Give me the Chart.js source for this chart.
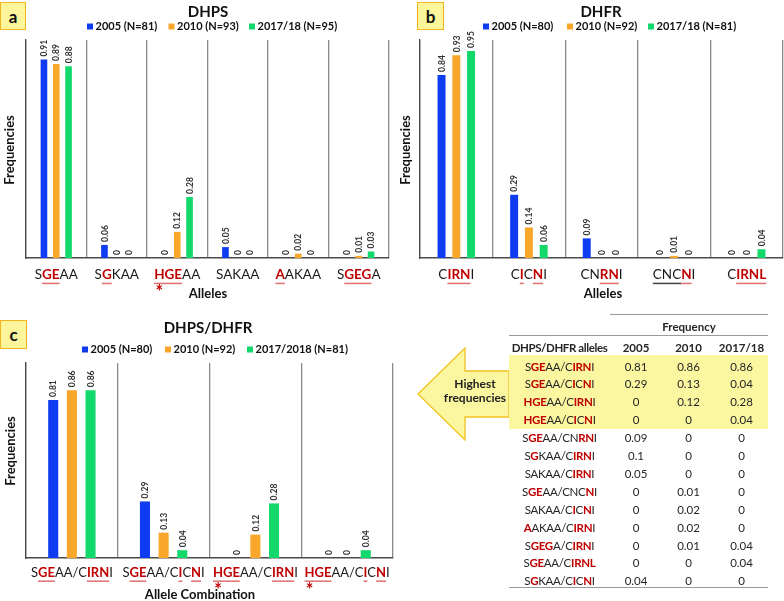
<!DOCTYPE html>
<html><head><meta charset="utf-8">
<script src="https://cdn.jsdelivr.net/npm/chart.js@4.4.0/dist/chart.umd.min.js"></script>
<style>
html,body{margin:0;padding:0;background:#fff;width:784px;height:601px;overflow:hidden;font-family:Lato,sans-serif;}
#wrap{position:relative;width:784px;height:601px;}
canvas{position:absolute;}
.tag{position:absolute;box-sizing:border-box;background:#fdf59c;border:1.5px solid #f3b51b;font:bold 17px Lato,sans-serif;color:#111;display:flex;align-items:center;justify-content:center;}
.hl{position:absolute;left:509px;top:355px;width:259px;height:74px;background:#fbf6a0;}
.line{position:absolute;height:1px;background:#9a9a9a;}
.row{position:absolute;left:509px;width:259px;height:18px;display:flex;align-items:center;font:11.5px Lato,sans-serif;color:#262626;white-space:nowrap;}
.row div{text-align:center;}
.c0{width:101px;letter-spacing:-0.3px}.c1{width:52px}.c2{width:53px}.c3{width:53px}
.red{color:#c00000;font-weight:bold;}
.hdr{font-weight:bold;font-size:11.5px;}
.hdr .c0{letter-spacing:-0.4px}
#arrowtxt{position:absolute;left:430px;top:377px;width:90px;text-align:center;font:bold 12px Lato,sans-serif;line-height:14px;color:#222;}
</style></head>
<body><div id="wrap">
<canvas id="ca" width="390" height="300" style="left:0;top:0;width:390px;height:300px"></canvas>
<canvas id="cb" width="394" height="300" style="left:390px;top:0;width:394px;height:300px"></canvas>
<canvas id="cc" width="400" height="301" style="left:0;top:300px;width:400px;height:301px"></canvas>
<div class="tag" style="left:0;top:2px;width:26px;height:28px">a</div>
<div class="tag" style="left:417px;top:2px;width:27px;height:28px">b</div>
<div class="tag" style="left:0;top:320px;width:27px;height:29px">c</div>
<div id="table"></div>
</div>
<script>
// ---------- DATA ----------
const seriesColors = ["#0f3cf0", "#f9a72b", "#13d86b"];

// Panel a: DHPS  ([..] = mutated residues in red, underlined)
const dhpsAlleles = ["S[GE]AA", "S[G]KAA", "[HGE]AA", "SAKAA", "[A]AKAA", "S[GEG]A"];
const dhpsLegend = ["2005 (N=81)", "2010 (N=93)", "2017/18 (N=95)"];
const dhps2005 = [0.91, 0.06, 0, 0.05, 0, 0];
const dhps2010 = [0.89, 0, 0.12, 0, 0.02, 0.01];
const dhps2017 = [0.88, 0, 0.28, 0, 0, 0.03];
const dhpsStarred = [2];

// Panel b: DHFR  ({..} = underlined black)
const dhfrAlleles = ["C[IRN]I", "C[I]C[N]I", "CN[RN]I", "{CNC}[N]I", "C[IRNL]"];
const dhfrLegend = ["2005 (N=80)", "2010 (N=92)", "2017/18 (N=81)"];
const dhfr2005 = [0.84, 0.29, 0.09, 0, 0];
const dhfr2010 = [0.93, 0.14, 0, 0.01, 0];
const dhfr2017 = [0.95, 0.06, 0, 0, 0.04];
const dhfrStarred = [];

// Panel c: DHPS/DHFR combinations
const comboAlleles = ["S[GE]AA/C[IRN]I", "S[GE]AA/C[I]C[N]I", "[HGE]AA/C[IRN]I", "[HGE]AA/C[I]C[N]I"];
const comboLegend = ["2005 (N=80)", "2010 (N=92)", "2017/2018 (N=81)"];
const combo2005 = [0.81, 0.29, 0, 0];
const combo2010 = [0.86, 0.13, 0.12, 0];
const combo2017 = [0.86, 0.04, 0.28, 0.04];
const comboStarred = [2, 3];

// Table
const tableHeader = ["DHPS/DHFR alleles", "2005", "2010", "2017/18"];
const tableAlleles = ["S[GE]AA/C[IRN]I", "S[GE]AA/C[I]C[N]I", "[HGE]AA/C[IRN]I", "[HGE]AA/C[I]C[N]I",
  "S[GE]AA/CN[RN]I", "S[G]KAA/C[IRN]I", "SAKAA/C[IRN]I", "S[GE]AA/CNC[N]I", "SAKAA/C[I]C[N]I",
  "[A]AKAA/C[IRN]I", "S[GEG]A/C[IRN]I", "S[GE]AA/C[IRNL]", "S[G]KAA/C[I]C[N]I"];
const table2005 = ["0.81", "0.29", "0", "0", "0.09", "0.1", "0.05", "0", "0", "0", "0", "0", "0.04"];
const table2010 = ["0.86", "0.13", "0.12", "0", "0", "0", "0", "0.01", "0.02", "0.02", "0.01", "0", "0"];
const table2017 = ["0.86", "0.04", "0.28", "0.04", "0", "0", "0", "0", "0", "0", "0.04", "0.04", "0"];
const highlightedRows = 4;

// ---------- helpers ----------
function parseRich(s) {
  const segs = []; const re = /\[([^\]]+)\]|\{([^}]+)\}|([^\[\{]+)/g; let m;
  while ((m = re.exec(s))) {
    if (m[1]) segs.push({ t: m[1], k: 'r' });
    else if (m[2]) segs.push({ t: m[2], k: 'u' });
    else segs.push({ t: m[3], k: 'n' });
  }
  return segs;
}
const FF = "Lato, sans-serif";

function drawRich(ctx, segs, cx, y, size) {
  const fonts = { r: `bold ${size}px ${FF}`, n: `${size}px ${FF}`, u: `${size}px ${FF}` };
  let w = 0;
  segs.forEach(s => { ctx.font = fonts[s.k]; s.w = ctx.measureText(s.t).width; w += s.w; });
  let x = cx - w / 2; const x0 = x;
  ctx.textBaseline = 'middle'; ctx.textAlign = 'left';
  segs.forEach(s => {
    ctx.font = fonts[s.k];
    ctx.fillStyle = s.k === 'r' ? '#c00000' : '#1a1a1a';
    ctx.fillText(s.t, x, y);
    if (s.k !== 'n') {
      ctx.fillStyle = s.k === 'r' ? '#e07070' : '#444';
      ctx.fillRect(x, y + size * 0.57, s.w, 1.5);
    }
    x += s.w;
  });
  ctx.font = fonts[segs[0].k];
  return { x0, firstW: ctx.measureText(segs[0].t[0]).width };
}

const panelPlugin = {
  id: 'panelText',
  afterDraw(chart, args, o) {
    const ctx = chart.ctx;
    ctx.save();
    // title
    ctx.fillStyle = '#111'; ctx.font = `bold 15px ${FF}`; ctx.textAlign = 'center'; ctx.textBaseline = 'middle';
    ctx.fillText(o.title, o.titleX, o.titleY);
    // legend
    chart.data.datasets.forEach((ds, i) => {
      ctx.fillStyle = ds.backgroundColor;
      ctx.fillRect(o.legendX[i], o.legendY - 3, 6, 6);
      ctx.fillStyle = '#111'; ctx.font = `bold 11px ${FF}`; ctx.textAlign = 'left'; ctx.textBaseline = 'middle';
      ctx.fillText(ds.label, o.legendX[i] + 8.5, o.legendY);
    });
    // data labels
    chart.data.datasets.forEach((ds, i) => {
      chart.getDatasetMeta(i).data.forEach((el, j) => {
        ctx.save();
        ctx.translate(el.x, el.y - 3);
        ctx.rotate(-Math.PI / 2);
        ctx.fillStyle = '#333'; ctx.font = `bold 8.5px ${FF}`; ctx.textAlign = 'left'; ctx.textBaseline = 'middle';
        ctx.fillText(String(ds.data[j]), 0, 0.5);
        ctx.restore();
      });
    });
    // x tick labels (rich)
    const xs = chart.scales.x;
    chart.data.labels.forEach((lab, i) => {
      const cx = xs.getPixelForValue(i);
      const r = drawRich(ctx, parseRich(lab), cx, o.tickY, o.tickSize);
      if (o.starred.includes(i)) {
        const ss = 18;
        ctx.fillStyle = '#c00000'; ctx.font = `bold ${ss}px ${FF}`; ctx.textAlign = 'center'; ctx.textBaseline = 'alphabetic';
        ctx.fillText('*', r.x0 + r.firstW / 2, o.starY + ss * 0.55);
      }
    });
    // axis titles
    ctx.fillStyle = '#111'; ctx.font = `bold 13px ${FF}`; ctx.textAlign = 'center'; ctx.textBaseline = 'middle';
    ctx.fillText(o.xTitle, o.xTitleX, o.xTitleY);
    ctx.save(); ctx.translate(o.yTitleX, o.yTitleY); ctx.rotate(-Math.PI / 2);
    ctx.fillText('Frequencies', 0, 0); ctx.restore();
    ctx.restore();
  }
};

function makeChart(id, labels, legend, series, pad, opts) {
  return new Chart(document.getElementById(id), {
    type: 'bar',
    data: {
      labels: labels,
      datasets: series.map((d, i) => ({ label: legend[i], data: d, backgroundColor: seriesColors[i], borderWidth: 0,
        categoryPercentage: 0.61, barPercentage: 0.54 }))
    },
    options: {
      responsive: false, animation: false, devicePixelRatio: 1,
      layout: { padding: pad },
      plugins: { legend: { display: false }, title: { display: false }, tooltip: { enabled: false }, panelText: opts },
      scales: {
        x: { grid: { display: true, offset: true, color: '#8a8a8a', lineWidth: 1.3, drawTicks: false },
             border: { display: true, color: '#4a4a4a', width: 1.5 }, ticks: { display: false } },
        y: { min: 0, max: 1, grid: { display: false, drawTicks: false },
             border: { display: true, color: '#4a4a4a', width: 1.3 }, ticks: { display: false } }
      }
    },
    plugins: [panelPlugin]
  });
}

makeChart('ca', dhpsAlleles, dhpsLegend, [dhps2005, dhps2010, dhps2017],
  { left: 26, top: 40, right: 1, bottom: 42 },
  { title: 'DHPS', titleX: 208, titleY: 12, legendX: [87, 168.5, 249], legendY: 26.5, tickY: 275, tickSize: 13.5,
    starred: dhpsStarred, starY: 288, xTitle: 'Alleles', xTitleX: 208, xTitleY: 294, yTitleX: 10, yTitleY: 150 });

makeChart('cb', dhfrAlleles, dhfrLegend, [dhfr2005, dhfr2010, dhfr2017],
  { left: 30, top: 40, right: 1, bottom: 42 },
  { title: 'DHFR', titleX: 211, titleY: 12, legendX: [93, 177, 258], legendY: 26.5, tickY: 275, tickSize: 13.5,
    starred: dhfrStarred, starY: 288, xTitle: 'Alleles', xTitleX: 213, xTitleY: 294, yTitleX: 16, yTitleY: 150 });

makeChart('cc', comboAlleles, comboLegend, [combo2005, combo2010, combo2017],
  { left: 26, top: 63, right: 7, bottom: 43 },
  { title: 'DHPS/DHFR', titleX: 208, titleY: 28, legendX: [82, 165, 247], legendY: 49.5, tickY: 273, tickSize: 13,
    starred: comboStarred, starY: 286, xTitle: 'Allele Combination', xTitleX: 200, xTitleY: 295, yTitleX: 11, yTitleY: 151 });

// ---------- table ----------
function richHTML(s) {
  return parseRich(s).map(g => g.k === 'r' ? `<span class="red">${g.t}</span>` : g.t).join('');
}
(function buildTable() {
  const t = document.getElementById('table');
  let h = '';
  h += `<svg style="position:absolute;left:0;top:0" width="784" height="601"><polygon points="509,371 465,371 465,348 418,394 465,440 465,417 509,417" fill="#fbf6a0" stroke="#f2c21f" stroke-width="1.3"/></svg>`;
  h += `<div class="hl"></div>`;
  h += `<div id="arrowtxt">Highest<br>frequencies</div>`;
  h += `<div class="line" style="left:610px;top:314px;width:158px"></div>`;
  h += `<div class="row hdr" style="top:317px;left:610px;width:158px;justify-content:center">Frequency</div>`;
  h += `<div class="line" style="left:509px;top:335px;width:259px"></div>`;
  h += `<div class="row hdr" style="top:338px">` + tableHeader.map((c, i) => `<div class="c${i}">${c}</div>`).join('') + `</div>`;
  tableAlleles.forEach((a, i) => {
    const top = 357 + i * 17.9;
    h += `<div class="row" style="top:${top}px"><div class="c0">${richHTML(a)}</div><div class="c1">${table2005[i]}</div><div class="c2">${table2010[i]}</div><div class="c3">${table2017[i]}</div></div>`;
  });
  h += `<div class="line" style="left:509px;top:587px;width:259px"></div>`;
  t.innerHTML = h;
})();
</script>
</body></html>
